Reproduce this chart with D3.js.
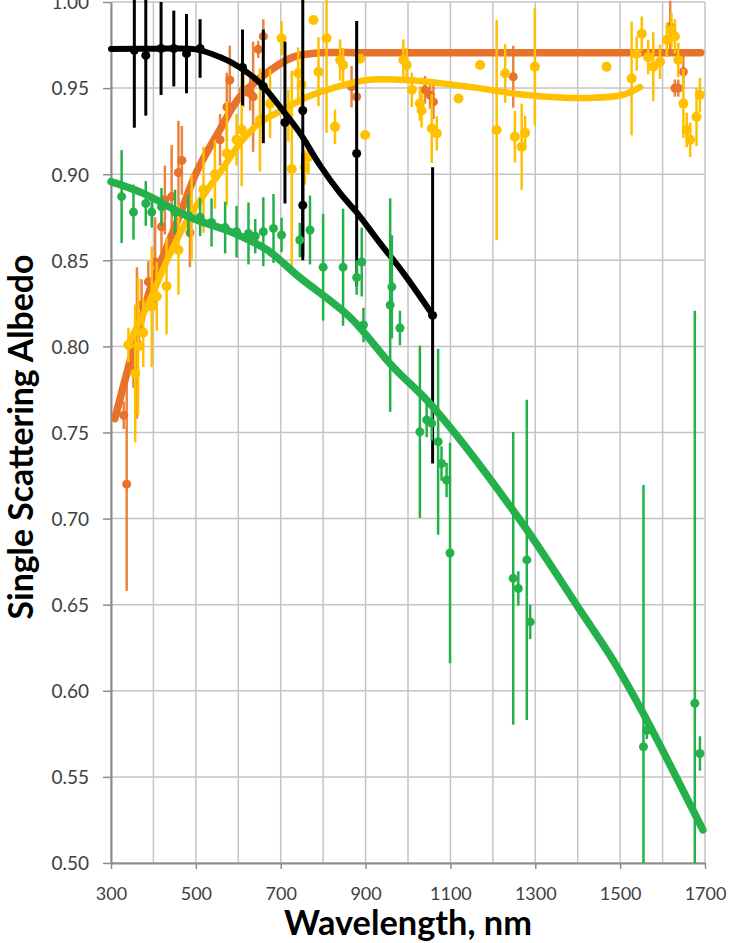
<!DOCTYPE html>
<html>
<head>
<meta charset="utf-8">
<script src="https://cdn.jsdelivr.net/npm/d3@7"></script>
<style>
  html, body { margin: 0; padding: 0; background: #fff; }
  svg { display: block; }
</style>
</head>
<body>
<svg id="chart" width="741" height="943"></svg>
<script>
// ---- axis ticks ----
const xTicks = [300, 500, 700, 900, 1100, 1300, 1500, 1700];
const xGrid = [300, 400, 500, 600, 700, 800, 900, 1000, 1100, 1200, 1300, 1400, 1500, 1600, 1700];
const yTicks = [0.50, 0.55, 0.60, 0.65, 0.70, 0.75, 0.80, 0.85, 0.90, 0.95, 1.00];

// ---- black series: measurements and fit ----
const blackWl  = [355, 382, 418, 448, 478, 510, 610, 659, 710, 752, 752, 879, 1058];
const blackVal = [0.972, 0.969, 0.973, 0.973, 0.970, 0.973, 0.962, 0.951, 0.930, 0.937, 0.882, 0.912, 0.818];
const blackErr = [0.045, 0.035, 0.027, 0.022, 0.023, 0.017, 0.022, 0.033, 0.047, 0.087, 0.030, 0.077, 0.086];
const blackFitWl  = [300, 400, 500, 557, 604, 651, 705, 745, 793, 840, 880, 934, 988, 1059];
const blackFitVal = [0.9727, 0.9728, 0.9725, 0.968, 0.962, 0.953, 0.937, 0.924, 0.905, 0.889, 0.8775, 0.860, 0.843, 0.818];

// ---- orange series ----
const orangeWl  = [330, 337, 353, 361, 372, 388, 404, 419, 427, 443, 459, 467, 486, 557, 573, 580, 612, 628, 635, 647, 659, 867, 879, 1040, 1052, 1060, 1248, 1618, 1629, 1637, 1649];
const orangeVal = [0.760, 0.720, 0.786, 0.802, 0.824, 0.8375, 0.849, 0.8695, 0.885, 0.887, 0.901, 0.908, 0.866, 0.920, 0.939, 0.9547, 0.949, 0.947, 0.945, 0.9725, 0.980, 0.9508, 0.945, 0.949, 0.946, 0.942, 0.9566, 0.9857, 0.950, 0.950, 0.9595];
const orangeErr = [0.008, 0.062, 0.010, 0.044, 0.015, 0.012, 0.026, 0.015, 0.020, 0.030, 0.030, 0.020, 0.020, 0.015, 0.020, 0.020, 0.010, 0.010, 0.032, 0.005, 0.010, 0.012, 0.010, 0.008, 0.008, 0.010, 0.018, 0.015, 0.005, 0.005, 0.010];
const orangeFitWl  = [309, 352, 392, 432, 463, 503, 557, 604, 668, 729, 793, 900, 1690];
const orangeFitVal = [0.758, 0.798, 0.833, 0.858, 0.877, 0.902, 0.926, 0.945, 0.959, 0.968, 0.9705, 0.9705, 0.9705];

// ---- yellow series ----
const yellowWl  = [341, 357, 364, 376, 396, 408, 431, 459, 490, 518, 545, 573, 596, 608, 651, 675, 702, 718, 726, 741, 749, 757, 765, 777, 789, 808, 828, 840, 847, 887, 899, 989, 997, 1009, 1028, 1032, 1056, 1068, 1119, 1170, 1209, 1229, 1252, 1268, 1276, 1299, 1468, 1527, 1539, 1551, 1566, 1578, 1594, 1610, 1621, 1629, 1637, 1649, 1657, 1665, 1680, 1688];
const yellowVal = [0.8008, 0.7843, 0.800, 0.808, 0.823, 0.829, 0.835, 0.856, 0.875, 0.891, 0.900, 0.912, 0.920, 0.926, 0.9315, 0.941, 0.979, 0.934, 0.903, 0.9586, 0.952, 0.904, 0.910, 0.9895, 0.9595, 0.979, 0.9275, 0.9663, 0.9634, 0.967, 0.9228, 0.9663, 0.9634, 0.949, 0.941, 0.937, 0.9265, 0.9237, 0.944, 0.9634, 0.9257, 0.9585, 0.9217, 0.916, 0.924, 0.9624, 0.9624, 0.9556, 0.970, 0.9816, 0.968, 0.9624, 0.9653, 0.978, 0.9837, 0.980, 0.9663, 0.941, 0.9257, 0.920, 0.9333, 0.946];
const yellowErr = [0.010, 0.040, 0.040, 0.020, 0.035, 0.020, 0.028, 0.026, 0.025, 0.025, 0.020, 0.030, 0.015, 0.033, 0.030, 0.020, 0.010, 0.015, 0.057, 0.015, 0.015, 0.010, 0.010, 0.000, 0.020, 0.055, 0.010, 0.012, 0.010, 0.000, 0.000, 0.012, 0.010, 0.010, 0.010, 0.010, 0.020, 0.010, 0.000, 0.000, 0.064, 0.017, 0.015, 0.025, 0.010, 0.034, 0.000, 0.033, 0.010, 0.010, 0.010, 0.020, 0.010, 0.010, 0.010, 0.010, 0.010, 0.020, 0.010, 0.010, 0.017, 0.010];
const yellowFitWl  = [340, 392, 432, 479, 533, 557, 604, 651, 705, 762, 823, 903, 997, 1105, 1168, 1245, 1326, 1427, 1505, 1547];
const yellowFitVal = [0.801, 0.827, 0.850, 0.873, 0.893, 0.901, 0.918, 0.930, 0.9373, 0.9448, 0.950, 0.9547, 0.9547, 0.952, 0.950, 0.947, 0.945, 0.9443, 0.946, 0.9506];

// ---- green series ----
const greenWl  = [325, 353, 382, 396, 419, 451, 482, 510, 537, 569, 596, 624, 640, 659, 683, 702, 745, 769, 800, 847, 879, 891, 895, 958, 962, 981, 1028, 1044, 1056, 1071, 1079, 1091, 1099, 1248, 1260, 1280, 1288, 1555, 1563, 1676, 1688];
const greenVal = [0.887, 0.878, 0.883, 0.878, 0.881, 0.878, 0.876, 0.875, 0.872, 0.869, 0.8666, 0.8656, 0.864, 0.8666, 0.8685, 0.8647, 0.8618, 0.8676, 0.846, 0.846, 0.840, 0.849, 0.8124, 0.824, 0.8346, 0.8107, 0.7504, 0.7573, 0.7553, 0.7446, 0.732, 0.7224, 0.680, 0.6653, 0.6594, 0.676, 0.640, 0.5675, 0.577, 0.5927, 0.5636];
const greenErr = [0.027, 0.016, 0.013, 0.009, 0.011, 0.013, 0.012, 0.011, 0.014, 0.015, 0.015, 0.018, 0.010, 0.020, 0.020, 0.010, 0.010, 0.020, 0.031, 0.034, 0.010, 0.020, 0.010, 0.062, 0.030, 0.010, 0.050, 0.010, 0.010, 0.054, 0.010, 0.010, 0.064, 0.085, 0.010, 0.093, 0.010, 0.152, 0.005, 0.228, 0.010];
const greenFitWl  = [300, 375, 486, 588, 668, 745, 863, 965, 1059, 1264, 1405, 1483, 1554, 1695];
const greenFitVal = [0.8957, 0.889, 0.875, 0.866, 0.856, 0.840, 0.817, 0.788, 0.7648, 0.6992, 0.647, 0.6179, 0.5871, 0.5192];

// ---- layout ----
const svg = d3.select("#chart");
const W = 741, H = 943;
const plotLeft = 111, plotRight = 705, plotTop = 2, plotBottom = 863;

const x = d3.scaleLinear().domain([300, 1700]).range([plotLeft, plotRight]);
const y = d3.scaleLinear().domain([0.5, 1.0]).range([plotBottom, plotTop]);

svg.append("rect").attr("width", W).attr("height", H).attr("fill", "#fff");

// gridlines
const grid = svg.append("g").attr("stroke", "#c4c4c4").attr("stroke-width", 1.5);
grid.selectAll("line.v").data(xGrid).join("line")
  .attr("x1", d => x(d)).attr("x2", d => x(d))
  .attr("y1", plotTop).attr("y2", plotBottom);
grid.selectAll("line.h").data(yTicks).join("line")
  .attr("x1", plotLeft).attr("x2", plotRight)
  .attr("y1", d => y(d)).attr("y2", d => y(d));

// axes
const axisColor = "#8c8c8c";
const labelFont = "Lato, 'Open Sans', sans-serif";

const gx = svg.append("g").attr("transform", `translate(0,${plotBottom})`)
  .call(d3.axisBottom(x).tickValues(xTicks).tickSize(6).tickSizeOuter(0).tickFormat(d3.format("d")));
gx.select(".domain").attr("stroke", axisColor).attr("stroke-width", 2);
gx.selectAll(".tick line").attr("stroke", axisColor).attr("stroke-width", 1.5);
gx.selectAll(".tick text").attr("y", 37).attr("dy", 0)
  .attr("fill", "#404040").style("font-family", labelFont).style("font-size", "18px");

const gy = svg.append("g").attr("transform", `translate(${plotLeft},0)`)
  .call(d3.axisLeft(y).tickValues(yTicks).tickSize(8).tickSizeOuter(0).tickPadding(14).tickFormat(d3.format(".2f")));
gy.select(".domain").attr("stroke", axisColor).attr("stroke-width", 2);
gy.selectAll(".tick line").attr("stroke", axisColor).attr("stroke-width", 1.5);
gy.selectAll(".tick text").attr("fill", "#404040").attr("dy", "0.36em")
  .style("font-family", labelFont).style("font-size", "19px");

// plot clip
svg.append("clipPath").attr("id", "plotClip")
  .append("rect").attr("x", plotLeft - 6).attr("y", 0)
  .attr("width", plotRight - plotLeft + 12).attr("height", plotBottom);

const plot = svg.append("g").attr("clip-path", "url(#plotClip)");

function drawSeries(wl, val, err, fitWl, fitVal, opt) {
  const g = plot.append("g");
  const pts = wl.map((w, i) => ({ w, v: val[i], e: err[i] }));
  g.selectAll("line.err").data(pts.filter(d => d.e > 0)).join("line")
    .attr("x1", d => x(d.w)).attr("x2", d => x(d.w))
    .attr("y1", d => y(d.v + d.e)).attr("y2", d => y(d.v - d.e))
    .attr("stroke", opt.errColor).attr("stroke-width", opt.errWidth);
  g.selectAll("circle").data(pts).join("circle")
    .attr("cx", d => x(d.w)).attr("cy", d => y(d.v)).attr("r", opt.r)
    .attr("fill", opt.color);
  const line = d3.line().x(d => x(d[0])).y(d => y(d[1])).curve(d3.curveCatmullRom.alpha(0.5));
  g.append("path").datum(fitWl.map((w, i) => [w, fitVal[i]]))
    .attr("d", line).attr("fill", "none")
    .attr("stroke", opt.color).attr("stroke-width", opt.lineWidth)
    .attr("stroke-linecap", "round").attr("stroke-linejoin", "round");
}

drawSeries(orangeWl, orangeVal, orangeErr, orangeFitWl, orangeFitVal,
  { color: "#e8722a", errColor: "#ec8440", errWidth: 2.5, r: 4.5, lineWidth: 7.5 });
drawSeries(yellowWl, yellowVal, yellowErr, yellowFitWl, yellowFitVal,
  { color: "#ffc000", errColor: "#ffc000", errWidth: 2.5, r: 5, lineWidth: 6.5 });
drawSeries(blackWl, blackVal, blackErr, blackFitWl, blackFitVal,
  { color: "#000000", errColor: "#000000", errWidth: 3, r: 4.5, lineWidth: 6 });
drawSeries(greenWl, greenVal, greenErr, greenFitWl, greenFitVal,
  { color: "#24b14c", errColor: "#24b14c", errWidth: 2.5, r: 4.5, lineWidth: 7.5 });

// axis titles
function fitText(sel, target) {
  const len = sel.node().getComputedTextLength();
  const fs = parseFloat(sel.style("font-size"));
  sel.style("font-size", (fs * target / len) + "px");
}

const xTitle = svg.append("text")
  .attr("x", 408).attr("y", 935).attr("text-anchor", "middle")
  .style("font-family", labelFont).style("font-weight", "bold").style("font-size", "34px")
  .attr("fill", "#000").text("Wavelength, nm");
fitText(xTitle, 248);

const yTitle = svg.append("text")
  .attr("transform", "translate(33,437) rotate(-90)").attr("text-anchor", "middle")
  .style("font-family", labelFont).style("font-weight", "bold").style("font-size", "31px")
  .attr("fill", "#000").text("Single Scattering Albedo");
fitText(yTitle, 365);
</script>
</body>
</html>
